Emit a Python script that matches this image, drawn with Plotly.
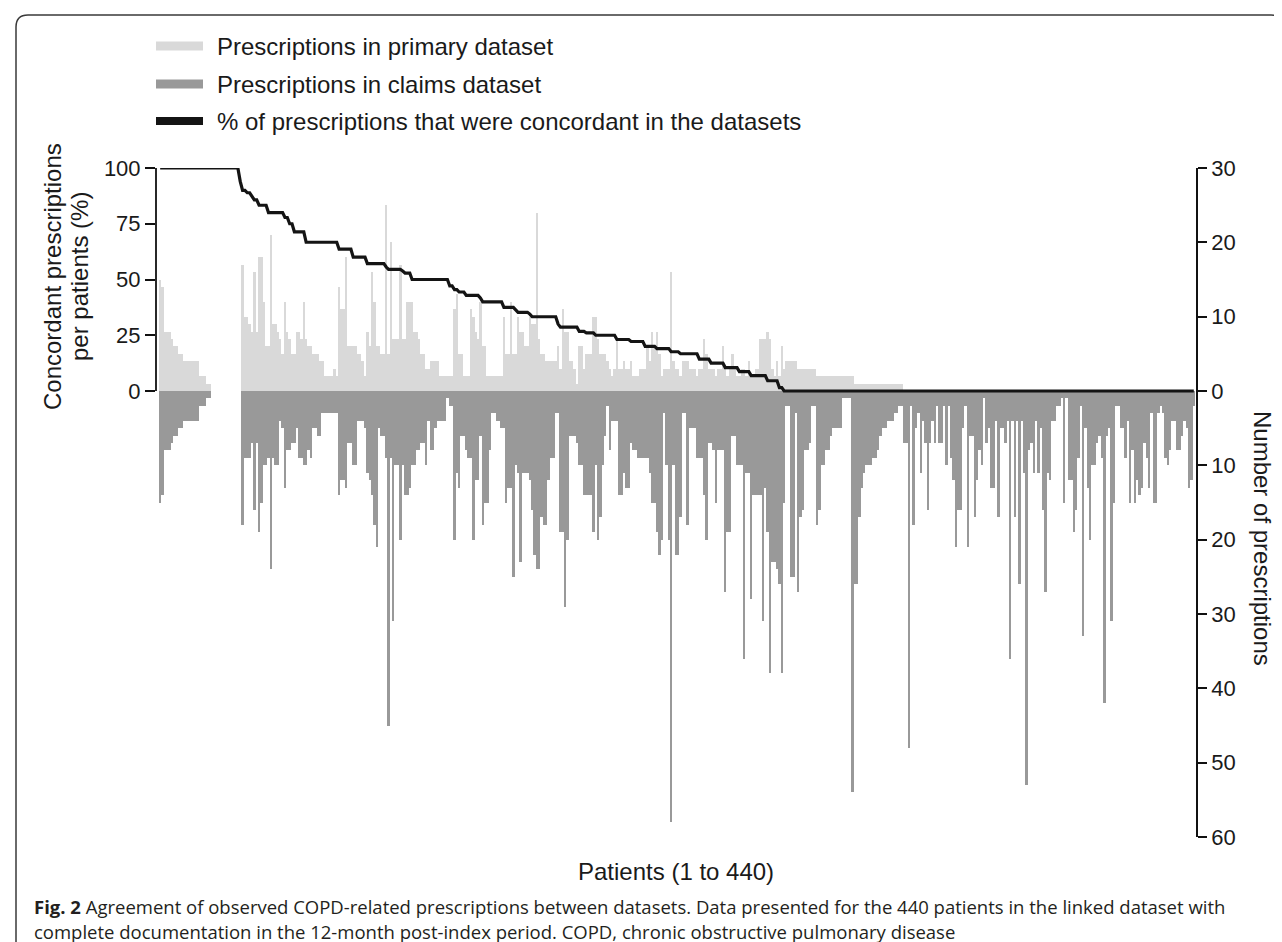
import plotly.graph_objects as go

# ---------------- data ----------------
patients = list(range(1, 441))

primary = (
    [15, 14, 8, 8, 8, 7, 6, 6, 5, 5, 4, 4, 4, 4, 4, 4, 4, 2, 2, 2, 1, 1]
    + [0] * 13
    + [17, 10, 10, 9, 8, 16, 8, 18, 18, 12, 6, 6, 21, 9, 9, 8, 7, 5, 12, 8,
       7, 5, 5, 8, 8, 7, 12, 7, 6, 6, 5, 5, 5, 4, 4, 2, 2, 2, 2, 3,
       2, 14, 11, 11, 18, 6, 6, 6, 6, 5, 5, 4]
    + [2, 8, 6, 16, 12, 6, 6, 5, 5, 25, 5, 20, 7, 7, 7, 17, 7, 7, 12, 12,
       12, 8, 8, 7, 5, 5, 3, 3, 4, 4, 4, 4, 2, 2, 2, 2, 2, 2, 11, 13,
       5, 5, 2, 2, 2, 11, 10, 8, 7, 12, 6, 6, 2, 2, 2, 2, 2, 2, 2, 10,
       5, 5, 12, 5, 5, 10, 8, 8, 6, 6, 10, 9, 9, 24, 7, 5, 5, 4, 4, 4,
       4, 4, 6, 3, 11, 8, 8, 4, 4]
    + [3, 1, 6, 6, 3, 5, 5, 5, 10, 10, 7, 5, 5, 5, 4, 3, 2, 3, 7, 3,
       3, 4, 3, 3, 4, 2, 2, 2, 3, 3, 3, 6, 4, 8, 6, 8, 5, 2, 3, 3,
       3, 16, 4, 3, 3, 2, 4, 4, 4, 3, 3, 3, 2, 3, 3, 7, 5, 3, 3, 3,
       2, 3, 3, 6, 3, 2, 3, 5, 3, 2, 2, 3, 3, 2, 4, 2, 2, 3, 3, 7,
       7, 7, 8, 7, 3, 2, 4, 2, 6, 3]
    + [4] * 5 + [3] * 8 + [2] * 16 + [1] * 21 + [0] * 124
)

claims = (
    [15, 14, 8, 8, 8, 7, 6, 6, 5, 5, 4, 4, 4, 4, 4, 4, 4, 2, 2, 2, 1, 1]
    + [0] * 13
    + [18, 9, 9, 9, 7, 16, 7, 19, 15, 10, 10, 9, 24, 9, 10, 10, 4, 5, 13, 8,
       8, 7, 7, 5, 9, 9, 10, 10, 8, 9, 5, 5, 6, 6, 3, 3, 3, 3, 3, 3,
       3, 14, 12, 12, 13, 7, 7, 10, 10, 4, 4, 4]
    + [5, 11, 12, 14, 18, 21, 5, 6, 6, 9, 45, 9, 31, 10, 10, 20, 10, 14, 14, 13,
       10, 10, 8, 8, 7, 7, 10, 4, 8, 8, 5, 4, 4, 4, 4, 1, 2, 2, 20, 11,
       13, 6, 6, 8, 9, 9, 20, 12, 12, 6, 18, 15, 15, 8, 3, 3, 4, 4, 5, 5,
       15, 13, 13, 25, 10, 11, 23, 11, 11, 11, 12, 16, 22, 24, 24, 17, 18, 18, 12, 9,
       9, 3, 3, 19, 19, 29, 20, 6, 6]
    + [6, 7, 10, 10, 14, 14, 14, 14, 19, 10, 20, 17, 10, 6, 2, 8, 4, 4, 4, 14,
       14, 11, 13, 13, 7, 8, 8, 9, 9, 9, 9, 9, 11, 15, 15, 19, 22, 20, 3, 10,
       20, 58, 10, 22, 22, 17, 3, 3, 18, 5, 5, 5, 9, 9, 9, 14, 20, 7, 7, 8,
       15, 8, 8, 8, 27, 19, 19, 6, 6, 10, 10, 10, 36, 11, 11, 28, 14, 14, 14, 14,
       31, 13, 19, 38, 23, 23, 24, 26, 38, 15]
    + [2, 2, 25, 25, 3, 27, 17, 16, 8, 8, 7, 2, 2, 18, 16, 10, 10, 8, 8, 6,
       5, 5, 5, 5, 1, 1, 1, 1, 54, 26, 26, 17, 13, 11, 10, 10, 10, 9, 9, 8,
       6, 5, 5, 4, 4, 4, 3, 3, 2, 2, 7, 7, 48, 2, 18, 5, 3, 11, 4, 7,
       16, 7, 4, 7, 2, 7, 7, 2, 10, 2, 9, 12, 21, 16, 16, 5, 2, 21, 6, 6,
       17, 12, 8, 10, 1, 7, 5, 13, 13]
    + [4, 17, 5, 5, 7, 4, 36, 4, 17, 4, 26, 4, 11, 53, 8, 7, 11, 4, 11, 5,
       16, 27, 11, 12, 4, 4, 2, 2, 1, 15, 1, 12, 12, 19, 16, 9, 2, 33, 5, 13,
       20, 10, 10, 7, 6, 9, 42, 6, 5, 31, 15, 2, 2, 5, 5, 9, 4, 15, 8, 15,
       12, 14, 13, 7, 9, 13, 3, 15, 15, 3, 2, 3, 9, 10, 8, 4, 4, 8, 8, 6,
       4, 5, 13, 12, 2]
)

concordant_pct = (
    [100] * 34 + [94] + [90] * 2 + [88.9] * 2 + [87.5] + [85.7] * 2 + [83.3] * 4
    + [80] * 7 + [77.8] * 2 + [75] * 2 + [71.4] * 5 + [66.7] * 14 + [63.6] * 6
    + [60] * 6 + [57.1] * 8 + [55.6] + [54.5] * 6 + [53.8] + [52.9] * 3
    + [50] * 16 + [47.1] * 2 + [45.5] * 2 + [44.4] * 3 + [42.9] * 6 + [41.7]
    + [40] * 9 + [37.5] * 5 + [36.4] + [35.3] * 5 + [34.5] + [33.3] * 11 + [30]
    + [28.6] * 8 + [26.7] * 3 + [26.1] * 4 + [25] * 9 + [23.1] * 6 + [22.2] * 6
    + [20] * 5 + [19] * 6 + [17.6] * 4 + [16.7] * 8 + [14.3] * 5 + [12.5] * 6
    + [10.5] * 6 + [8.7] * 5 + [6.9] * 7 + [4.6] * 5 + [1.5] * 2 + [0] * 175
)

right_tickvals = [-60, -50, -40, -30, -20, -10, 0, 10, 20, 30]
right_ticktext = ["60", "50", "40", "30", "20", "10", "0", "10", "20", "30"]
left_tickvals = [0, 25, 50, 75, 100]

legend_labels = ["Prescriptions in primary dataset",
                 "Prescriptions in claims dataset",
                 "% of prescriptions that were concordant in the datasets"]

# ---------------- styling ----------------
FONT = "Liberation Sans, Arial, sans-serif"
CAP = "Open Sans, Liberation Sans, sans-serif"
C_PRIMARY = "#d9d9d9"
C_CLAIMS = "#999999"
C_LINE = "#141414"
C_TEXT = "#1a1a1a"

W, H = 1282, 942
L, R, T, B = 148, 1188, 160, 829  # plot area in pixels


def px(x):
    return (x - L) / (R - L)


def py(y):
    return (B - y) / (B - T)


fig = go.Figure()
fig.add_trace(go.Bar(x=patients, y=primary, marker=dict(color=C_PRIMARY, line=dict(width=0)),
                     name=legend_labels[0], showlegend=False))
fig.add_trace(go.Bar(x=patients, y=[-v for v in claims], marker=dict(color=C_CLAIMS, line=dict(width=0)),
                     name=legend_labels[1], showlegend=False))
fig.add_trace(go.Scatter(x=patients, y=concordant_pct, yaxis="y2", mode="lines",
                         line=dict(color=C_LINE, width=3.2), name=legend_labels[2],
                         showlegend=False))

shapes = []
annotations = []

# left spine (0-100 % only)
shapes.append(dict(type="line", xref="paper", yref="y2", x0=0, x1=0, y0=0, y1=100,
                   line=dict(color="#111", width=1.8)))

# legend swatches and labels
legend_rows = [(38, C_PRIMARY, 9), (76, C_CLAIMS, 9), (113, C_LINE, 8)]
for (yc, col, hh), lab in zip(legend_rows, legend_labels):
    shapes.append(dict(type="rect", xref="paper", yref="paper",
                       x0=px(148), x1=px(195), y0=py(yc + hh / 2), y1=py(yc - hh / 2),
                       fillcolor=col, line=dict(width=0)))
    annotations.append(dict(xref="paper", yref="paper", x=px(207), y=py(yc), text=lab,
                            showarrow=False, xanchor="left", yanchor="middle",
                            font=dict(family=FONT, size=24, color=C_TEXT)))

# axis titles
for xc, line_txt in [(44, "Concordant prescriptions"), (71, "per patients (%)")]:
    annotations.append(dict(xref="paper", yref="paper", x=px(xc), y=py(269),
                            text=line_txt, showarrow=False, textangle=-90,
                            xanchor="center", yanchor="middle",
                            font=dict(family=FONT, size=24, color=C_TEXT)))
annotations.append(dict(xref="paper", yref="paper", x=px(1255), y=py(530),
                        text="Number of prescriptions", showarrow=False, textangle=90,
                        xanchor="center", yanchor="middle",
                        font=dict(family=FONT, size=24, color=C_TEXT)))
annotations.append(dict(xref="paper", yref="paper", x=px(668), y=py(863),
                        text="Patients (1 to 440)", showarrow=False,
                        xanchor="center", yanchor="middle",
                        font=dict(family=FONT, size=24, color=C_TEXT)))

# caption
annotations.append(dict(xref="paper", yref="paper", x=px(24), y=py(898),
                        text="<b>Fig. 2</b> Agreement of observed COPD-related prescriptions between datasets. "
                             "Data presented for the 440 patients in the linked dataset with",
                        showarrow=False, xanchor="left", yanchor="middle",
                        font=dict(family=CAP, size=18.5, color="#231f20")))
annotations.append(dict(xref="paper", yref="paper", x=px(24), y=py(924),
                        text="complete documentation in the 12-month post-index period. "
                             "COPD, chronic obstructive pulmonary disease",
                        showarrow=False, xanchor="left", yanchor="middle",
                        font=dict(family=CAP, size=18.5, color="#231f20")))

# rounded frame
bx0, by0, bx1, by1, rr = 8, 7, 1275, 960, 12
path = (f"M {px(bx0)},{py(by1)} L {px(bx0)},{py(by0 + rr)} "
        f"Q {px(bx0)},{py(by0)} {px(bx0 + rr)},{py(by0)} "
        f"L {px(bx1 - rr)},{py(by0)} Q {px(bx1)},{py(by0)} {px(bx1)},{py(by0 + rr)} "
        f"L {px(bx1)},{py(by1)}")
shapes.append(dict(type="path", xref="paper", yref="paper", path=path,
                   line=dict(color="#3a3a3a", width=1.5)))

fig.update_layout(
    width=W, height=H, autosize=False,
    margin=dict(l=L, r=W - R, t=T, b=H - B, pad=0),
    paper_bgcolor="white", plot_bgcolor="white",
    barmode="overlay", bargap=0,
    showlegend=False,
    font=dict(family=FONT, size=22, color=C_TEXT),
    xaxis=dict(range=[-0.77, 440.93], visible=False, showgrid=False, zeroline=False),
    yaxis=dict(range=[-60, 30], side="right", showgrid=False, zeroline=False,
               showline=True, linecolor="#111", linewidth=1.8,
               ticks="outside", ticklen=9, tickwidth=1.8, tickcolor="#111",
               tickvals=right_tickvals, ticktext=right_ticktext,
               tickfont=dict(family=FONT, size=22, color=C_TEXT), automargin=False),
    yaxis2=dict(range=[-200, 100], side="left", overlaying="y", showgrid=False,
                zeroline=False, showline=False,
                ticks="outside", ticklen=10, tickwidth=1.8, tickcolor="#111",
                tickvals=left_tickvals,
                tickfont=dict(family=FONT, size=22, color=C_TEXT), automargin=False),
    shapes=shapes,
    annotations=annotations,
)

fig.write_html("out.html")
